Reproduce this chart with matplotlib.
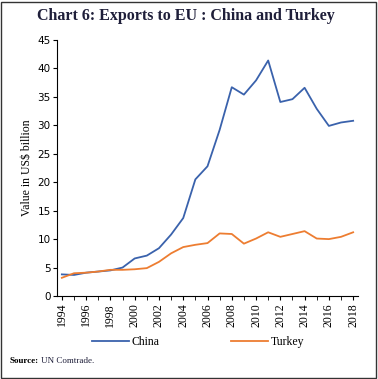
import numpy as np
import matplotlib
matplotlib.use("Agg")
import matplotlib.pyplot as plt
from matplotlib.patches import Rectangle

# data (US$ billion)
years = list(range(1994, 2019))
china = [3.8, 3.7, 4.1, 4.3, 4.5, 5.0, 6.6, 7.1, 8.4, 10.8, 13.7, 20.5, 22.8,
         29.2, 36.7, 35.4, 37.9, 41.4, 34.1, 34.6, 36.6, 32.9, 29.9, 30.5, 30.8]
turkey = [3.2, 4.0, 4.1, 4.3, 4.6, 4.6, 4.7, 4.9, 6.0, 7.5, 8.6, 9.0, 9.3,
          11.0, 10.9, 9.2, 10.1, 11.2, 10.4, 10.9, 11.4, 10.1, 10.0, 10.4, 11.2]
yticks = list(range(0, 50, 5))
xlabels = list(range(1994, 2019, 2))

serif = "Liberation Serif"

fig = plt.figure(figsize=(3.78, 3.79), dpi=100)
W, H = 378, 379

# outer frame
fig.patches.append(Rectangle((1 / W, 1 / H), 1 - 3 / W, 1 - 3 / H,
                             transform=fig.transFigure, fill=False,
                             edgecolor="#333333", linewidth=1.0))

fig.text(37 / W, 1 - 16 / H, "Chart 6: Exports to EU : China and Turkey",
         fontsize=11.5, fontweight="bold", family=serif, color="#1f1f3a",
         va="center", ha="left")

ax = fig.add_axes([57 / W, 1 - 296 / H, 301 / W, 256 / H])
l1, = ax.plot(years, china, color="#3a62ac", linewidth=1.3)
l2, = ax.plot(years, turkey, color="#ed7d31", linewidth=1.3)

ax.set_xlim(1993.6, 2018.4)
ax.set_ylim(0, 45)
ax.set_yticks(yticks)
ax.set_xticks(years, minor=True)
ax.set_xticks(xlabels)
ax.set_xticklabels([str(y) for y in xlabels], rotation=90, family=serif,
                   fontsize=8.5)
ax.tick_params(axis="y", labelsize=7.5, length=3, pad=1.5)
ax.tick_params(axis="x", which="both", length=3, pad=2)
for s in ["top", "right"]:
    ax.spines[s].set_visible(False)
ax.set_ylabel("Value in US$ billion", family=serif, fontsize=8.5, labelpad=3)

fig.legend([l1, l2], ["China", "Turkey"], loc="center",
           bbox_to_anchor=(198 / W, 1 - 342 / H), ncol=2, frameon=False,
           prop={"family": serif, "size": 8.5}, columnspacing=6.0,
           handlelength=3.2, handletextpad=0.2)

fig.text(10 / W, 1 - 361 / H, "Source:", fontsize=6.5, fontweight="bold",
         family=serif, va="center", ha="left")
fig.text(41 / W, 1 - 361 / H, "UN Comtrade.", fontsize=6.5, family=serif,
         va="center", ha="left", color="#1f1f3a")

fig.savefig("out.png", dpi=100)
plt.close("all")
